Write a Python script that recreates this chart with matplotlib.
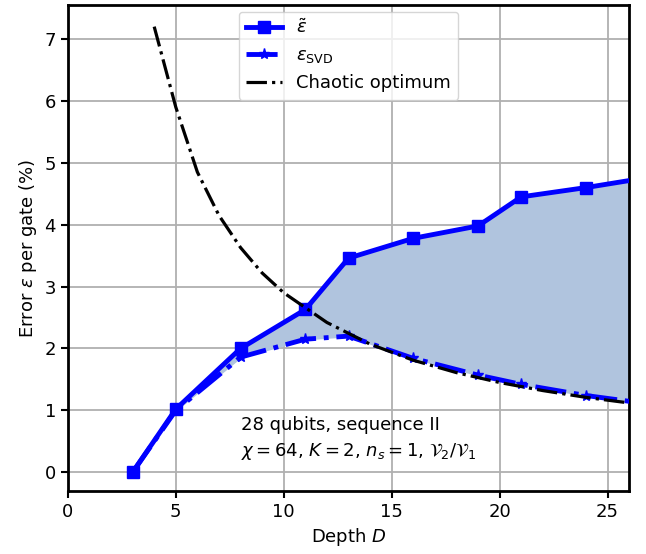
import matplotlib
matplotlib.use("Agg")
import matplotlib.pyplot as plt
import numpy as np

depth = [3, 5, 8, 11, 13, 16, 19, 21, 24, 27]
eps_tilde = [0.0, 1.02, 2.0, 2.63, 3.46, 3.78, 3.98, 4.45, 4.60, 4.77]
eps_svd = [0.0, 1.0, 1.86, 2.15, 2.20, 1.84, 1.57, 1.42, 1.24, 1.10]

chaotic_D = [4, 5, 6, 7, 8, 9, 10, 12, 14, 16, 18, 20, 22, 24, 26, 28]
chaotic_eps = [7.2, 5.9, 4.85, 4.15, 3.63, 3.22, 2.9, 2.42, 2.07, 1.81, 1.61, 1.45, 1.32, 1.21, 1.12, 1.04]

fs = 13
fig = plt.figure(figsize=(6.46, 5.54), dpi=100)
ax = fig.add_axes([0.105, 0.114, 0.869, 0.877])

ax.fill_between(depth, eps_svd, eps_tilde, color='lightsteelblue', zorder=1)
ax.plot(depth, eps_tilde, color='blue', marker='s', ms=9, lw=3.5, label=r'$\tilde{\varepsilon}$', zorder=3)
ax.plot(depth, eps_svd, color='blue', marker='*', ms=8, lw=3.5, ls='-.', label=r'$\varepsilon_{\rm SVD}$', zorder=3)
ax.plot(chaotic_D, chaotic_eps, color='black', lw=2.3, ls='-.', label='Chaotic optimum', zorder=4)

ax.set_xlim(0, 26)
ax.set_ylim(-0.3, 7.55)
ax.set_xticks([0, 5, 10, 15, 20, 25])
ax.set_yticks([0, 1, 2, 3, 4, 5, 6, 7])
ax.grid(True, color='#b0b0b0', lw=1.3)
ax.set_axisbelow(True)
for s in ax.spines.values():
    s.set_linewidth(2)
ax.tick_params(labelsize=fs, width=1.5, length=5)
ax.set_xlabel(r'Depth $D$', fontsize=fs)
ax.set_ylabel(r'Error $\varepsilon$ per gate (%)', fontsize=fs)

ax.text(8.0, 0.68, '28 qubits, sequence II', fontsize=fs)
ax.text(8.0, 0.27, r'$\chi = 64$, $K = 2$, $n_s = 1$, $\mathcal{V}_2/\mathcal{V}_1$', fontsize=fs)

ax.legend(loc='upper center', fontsize=fs, bbox_to_anchor=(0.5, 1.005))

fig.savefig('out.png', dpi=100)
